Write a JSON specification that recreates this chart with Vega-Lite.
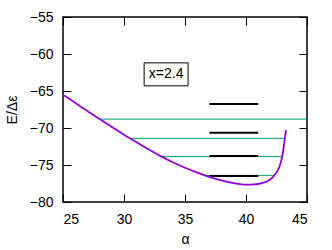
{
  "$schema": "https://vega.github.io/schema/vega-lite/v6.json",
  "width": 244,
  "height": 185,
  "autosize": {"type": "none"},
  "padding": {"left": 63, "top": 17, "right": 25, "bottom": 48},
  "background": "white",
  "config": {
    "view": {"stroke": "#000", "strokeWidth": 1.5},
    "font": "Liberation Sans",
    "axis": {
      "grid": false,
      "domain": false,
      "tickColor": "#000",
      "tickSize": -8,
      "tickWidth": 1,
      "labelFont": "Liberation Sans",
      "labelFontSize": 14,
      "labelColor": "#000",
      "titleFont": "Liberation Sans",
      "titleFontSize": 14,
      "titleFontWeight": "normal",
      "titleColor": "#000"
    }
  },
  "datasets": {
    "curve": [
      {"a": 25, "E": -65.5}, {"a": 26, "E": -66.6}, {"a": 27, "E": -67.7},
      {"a": 28, "E": -68.8}, {"a": 29, "E": -69.85}, {"a": 30, "E": -70.9},
      {"a": 31, "E": -71.9}, {"a": 32, "E": -72.88}, {"a": 33, "E": -73.8},
      {"a": 34, "E": -74.63}, {"a": 35, "E": -75.37}, {"a": 36, "E": -76.02},
      {"a": 37, "E": -76.6}, {"a": 38, "E": -77.08}, {"a": 39, "E": -77.45},
      {"a": 40, "E": -77.65}, {"a": 40.7, "E": -77.62}, {"a": 41.3, "E": -77.45},
      {"a": 41.8, "E": -77.15}, {"a": 42.2, "E": -76.65}, {"a": 42.5, "E": -76.0},
      {"a": 42.75, "E": -75.2}, {"a": 42.92, "E": -74.2}, {"a": 43.04, "E": -73.2},
      {"a": 43.13, "E": -72.1}, {"a": 43.21, "E": -71.1}, {"a": 43.28, "E": -70.3}
    ],
    "green": [
      {"a": 28.0, "a2": 45, "E": -68.8},
      {"a": 30.5, "a2": 43.15, "E": -71.4},
      {"a": 33.0, "a2": 42.95, "E": -73.87},
      {"a": 36.5, "a2": 42.3, "E": -76.4}
    ],
    "black": [
      {"a": 37.0, "a2": 41.0, "E": -66.76},
      {"a": 37.0, "a2": 41.0, "E": -70.63},
      {"a": 37.0, "a2": 41.0, "E": -73.78},
      {"a": 37.0, "a2": 41.0, "E": -76.5}
    ],
    "label": [
      {"a": 31.65, "a2": 35.25, "E": -61.2, "E2": -64.3, "ac": 33.45, "Ec": -62.75, "text": "x=2.4"}
    ]
  },
  "layer": [
    {
      "data": {"name": "green"},
      "mark": {"type": "rule", "color": "#009e73", "strokeWidth": 1},
      "encoding": {
        "x": {"field": "a", "type": "quantitative", "scale": {"domain": [25, 45], "nice": false},
              "axis": {"orient": "bottom", "values": [25, 30, 35, 40, 45], "title": "α", "labelPadding": 18, "titlePadding": 6}},
        "x2": {"field": "a2"},
        "y": {"field": "E", "type": "quantitative", "scale": {"domain": [-80, -55], "nice": false},
              "axis": {"orient": "left", "values": [-80, -75, -70, -65, -60, -55], "title": "E/Δε", "labelPadding": 18, "titlePadding": 10}}
      }
    },
    {
      "data": {"name": "black"},
      "mark": {"type": "rule", "color": "#000", "strokeWidth": 2},
      "encoding": {
        "x": {"field": "a", "type": "quantitative",
              "axis": {"orient": "top", "values": [25, 30, 35, 40, 45], "labels": false, "title": null}},
        "x2": {"field": "a2"},
        "y": {"field": "E", "type": "quantitative",
              "axis": {"orient": "right", "values": [-80, -75, -70, -65, -60, -55], "labels": false, "title": null}}
      }
    },
    {
      "data": {"name": "curve"},
      "mark": {"type": "line", "color": "#9400d3", "strokeWidth": 1.8, "interpolate": "monotone", "clip": true},
      "encoding": {
        "x": {"field": "a", "type": "quantitative", "axis": null},
        "y": {"field": "E", "type": "quantitative", "axis": null}
      }
    },
    {
      "data": {"name": "label"},
      "mark": {"type": "rect", "fill": "white", "stroke": "#000", "strokeWidth": 1},
      "encoding": {
        "x": {"field": "a", "type": "quantitative", "axis": null},
        "x2": {"field": "a2"},
        "y": {"field": "E", "type": "quantitative", "axis": null},
        "y2": {"field": "E2"}
      }
    },
    {
      "data": {"name": "label"},
      "mark": {"type": "text", "font": "Liberation Sans", "fontSize": 14, "color": "#000", "align": "center", "baseline": "middle"},
      "encoding": {
        "x": {"field": "ac", "type": "quantitative", "axis": null},
        "y": {"field": "Ec", "type": "quantitative", "axis": null},
        "text": {"field": "text"}
      }
    }
  ]
}
